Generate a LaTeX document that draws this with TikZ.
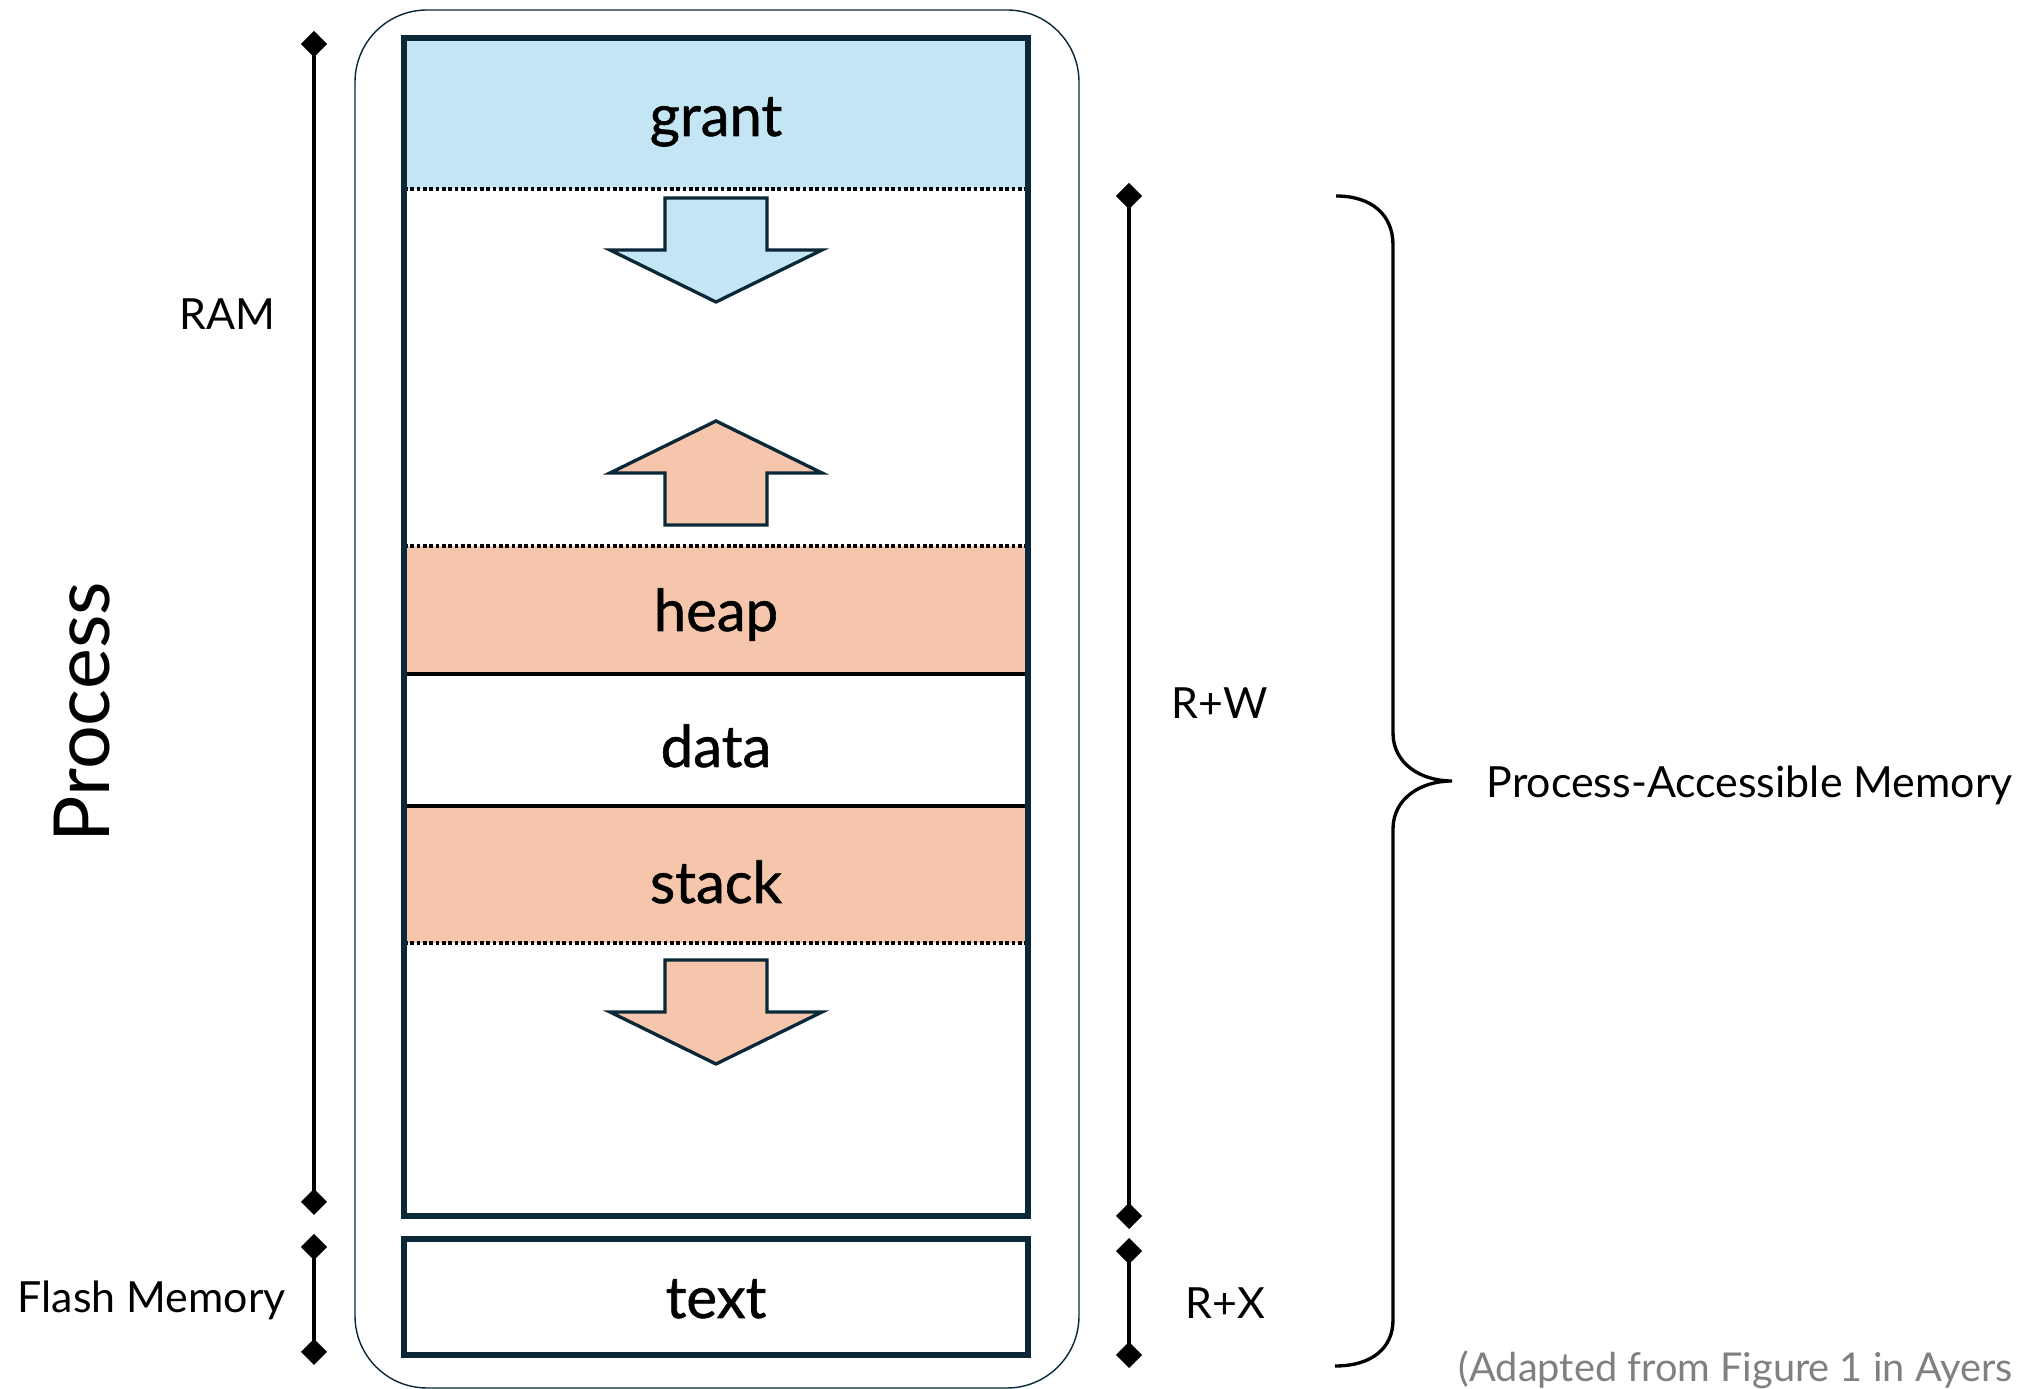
\documentclass[tikz,border=0pt]{standalone}
\usepackage{fontspec}
\setmainfont{Lato}
\usepackage{tikz}
\usetikzlibrary{arrows.meta,positioning}
\definecolor{navy}{HTML}{0B2838}
\definecolor{grantblue}{HTML}{C3E5F4}
\definecolor{heaporange}{HTML}{F5C6AC}
\definecolor{capgray}{HTML}{808080}

\begin{document}
\begin{tikzpicture}[x=0.01cm,y=-0.01cm,
  frame/.style={draw=navy,line width=1.7pt},
  sep/.style={line width=1.1pt},
  dots/.style={line width=1.05pt,dash pattern=on 1.05pt off 0.75pt},
  growarrow/.style={draw=navy,line width=0.95pt,miter limit=20},
  lbl/.style={font=\fontsize{16.5}{18}\selectfont\addfontfeature{FakeBold=1},inner sep=0pt},
  side/.style={font=\fontsize{12.2}{14}\selectfont,inner sep=0pt},
  span/.style={line width=0.95pt,{Diamond[length=7.4pt,width=7.4pt]}-{Diamond[length=7.4pt,width=7.4pt]}},
  brace/.style={line width=0.95pt},
  growpic/.pic={\draw[pic actions] (-51,0) -- (51,0) -- (51,52) -- (106,52)
    -- (0,104) -- (-106,52) -- (-51,52) -- cycle;}]
\useasboundingbox (0,0) rectangle (2029,1389);
% process outline
\draw[navy,line width=0.4pt,rounded corners=0.72cm] (355,10) rectangle (1079,1388);
% memory regions
\fill[grantblue] (404,38) rectangle (1028,189);
\fill[heaporange] (404,546) rectangle (1028,674);
\fill[heaporange] (404,806) rectangle (1028,943);
\draw[dots] (404,189) -- (1028,189);
\draw[dots] (404,546) -- (1028,546);
\draw[dots] (404,943) -- (1028,943);
\draw[sep] (404,674) -- (1028,674);
\draw[sep] (404,806) -- (1028,806);
\draw[frame] (404,38) rectangle (1028,1216);
\draw[frame] (404,1239) rectangle (1028,1355);
% growth arrows
\pic[growarrow,fill=grantblue] at (716,198) {growpic};
\pic[growarrow,fill=heaporange,rotate=180] at (716,525) {growpic};
\pic[growarrow,fill=heaporange] at (716,960) {growpic};
\node[lbl,anchor=base] (grant) at (716,136) {grant};
\node[lbl,anchor=base] (heap) at (716,631) {heap};
\node[lbl,anchor=base] (data) at (716,767) {data};
\node[lbl,anchor=base] (stack) at (716,903) {stack};
\node[lbl,anchor=base] (text) at (716,1318) {text};
% left spans
\coordinate (ramtop) at (314,31);
\coordinate (rambot) at (314,1215);
\coordinate (flashtop) at (314,1234);
\coordinate (flashbot) at (314,1365);
\draw[span] (ramtop) -- (rambot);
\draw[span] (flashtop) -- (flashbot);
\node[side,anchor=base east] (ram) at (276,330) {RAM};
\node[side,anchor=base west] (flash) at (17,1313) {Flash Memory};
\node[font=\fontsize{22}{24}\selectfont,inner sep=0pt,rotate=90,anchor=base west] (proc) at (110,843) {Process};
% right spans
\coordinate (rwtop) at (1129,183);
\coordinate (rwbot) at (1129,1229);
\coordinate (rxtop) at (1129,1238);
\coordinate (rxbot) at (1129,1368);
\draw[span] (rwtop) -- (rwbot);
\draw[span] (rxtop) -- (rxbot);
\node[side,anchor=base west] (rw) at (1171,719) {R+W};
\node[side,anchor=base west] (rx) at (1185,1319) {R+X};
% brace
\draw[brace] (1336,196) .. controls (1372,196) and (1393,215) .. (1393,245)
  -- (1393,733) .. controls (1393,763) and (1420,781) .. (1452,781)
  .. controls (1420,781) and (1393,799) .. (1393,829)
  -- (1393,1320) .. controls (1393,1348) and (1372,1366) .. (1335,1366);
\node[side,anchor=base west] (pam) at (1486,798) {Process-Accessible Memory};
\node[font=\fontsize{11.3}{13}\selectfont,text=capgray,inner sep=0pt,anchor=base west] (cite) at (1458,1382) {(Adapted from Figure 1 in Ayers};
\end{tikzpicture}
\end{document}
